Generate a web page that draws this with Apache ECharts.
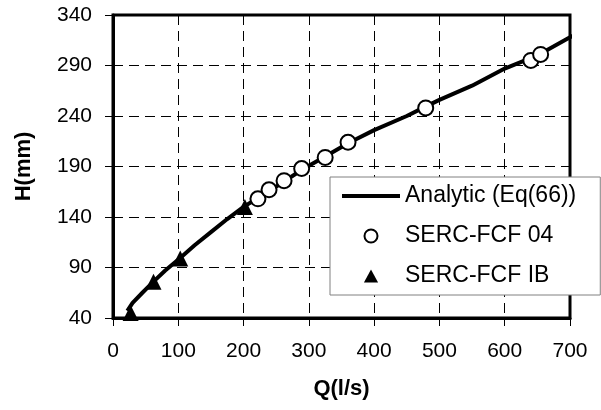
<!DOCTYPE html>
<html>
<head>
<meta charset="utf-8">
<script src="https://cdn.jsdelivr.net/npm/echarts@6/dist/echarts.min.js"></script>
<style>
html,body{margin:0;padding:0;background:#fff;}
#main{width:601px;height:410px;}
</style>
</head>
<body>
<div id="main"></div>
<script>
// analytic curve Q (l/s) -> H (mm)
var analyticQ = [22, 30, 45, 62, 80, 102, 125, 150, 175, 200, 225, 250, 290, 325, 360, 400, 450, 478, 500, 550, 600, 650, 700, 712];
var analyticH = [47, 55, 65, 76, 87, 99, 112, 125, 138, 150, 160, 170, 187, 200, 213, 226, 240, 249, 256, 270, 287, 300, 318, 322];

// SERC-FCF 04 (circles)
var fcf04Q = [222, 239, 262, 289, 325, 360, 479, 640, 655];
var fcf04H = [158, 167, 176, 188, 199, 214, 248, 295, 301];

// SERC-FCF IB (triangles)
var fcfIBQ = [27, 62, 103, 202];
var fcfIBH = [45, 76, 99, 150];

var xTicks = {min: 0, max: 700, step: 100};
var yTicks = {min: 40, max: 340, step: 50};

function pairs(a, b){
	var out = [];
	for(var i=0;i<a.length;i++){
		out.push([a[i], b[i]]);
	}
	return out;
}

var myChart = echarts.init(document.getElementById('main'));
var fnt = 'Liberation Sans, Arial, sans-serif';

var option = {
	animation: false,
	backgroundColor: '#fff',
	grid: {
		left: 113, top: 15, right: 31, bottom: 92,
		show: true,
		borderColor: '#000',
		borderWidth: 3,
		backgroundColor: '#fff'
	},
	legend: {
		orient: 'vertical',
		left: 330,
		top: 177,
		padding: [6, 24, 6, 12],
		itemWidth: 58,
		itemHeight: 13,
		itemGap: 14,
		backgroundColor: '#fff',
		borderColor: '#808080',
		borderWidth: 1,
		borderRadius: 0,
		textStyle: {fontFamily: fnt, fontSize: 23, color: '#000', lineHeight: 26},
		data: [
			{name: 'Analytic (Eq(66))', icon: 'path://M0,0L58,0L58,4L0,4Z', itemStyle: {color: '#000', borderWidth: 0}},
			{name: 'SERC-FCF 04', icon: 'circle'},
			{name: 'SERC-FCF IB', icon: 'path://M6,0L12,11L0,11Z'}
		]
	},
	xAxis: {
		type: 'value',
		min: xTicks.min, max: xTicks.max, interval: xTicks.step,
		name: 'Q(l/s)',
		nameLocation: 'middle',
		nameGap: 60,
		nameTextStyle: {fontFamily: fnt, fontSize: 22, fontWeight: 'bold', color: '#000'},
		axisLine: {show: true, lineStyle: {color: '#000', width: 3}},
		axisTick: {show: true, inside: false, length: 8, lineStyle: {color: '#000', width: 1}},
		axisLabel: {fontFamily: fnt, fontSize: 21, color: '#000', margin: 23},
		splitLine: {show: true, lineStyle: {color: '#000', width: 1, type: [10, 6]}}
	},
	yAxis: {
		type: 'value',
		min: yTicks.min, max: yTicks.max, interval: yTicks.step,
		name: 'H(mm)',
		nameLocation: 'middle',
		nameGap: 78,
		nameTextStyle: {fontFamily: fnt, fontSize: 22, fontWeight: 'bold', color: '#000'},
		axisLine: {show: true, lineStyle: {color: '#000', width: 3}},
		axisTick: {show: true, inside: false, length: 8, lineStyle: {color: '#000', width: 1}},
		axisLabel: {fontFamily: fnt, fontSize: 21, color: '#000', margin: 21},
		splitLine: {show: true, lineStyle: {color: '#000', width: 1, type: [10, 6]}}
	},
	series: [
		{
			name: 'Analytic (Eq(66))',
			type: 'line',
			data: pairs(analyticQ, analyticH),
			symbol: 'none',
			clip: false,
			z: 2,
			lineStyle: {color: '#000', width: 4},
			itemStyle: {color: '#000'}
		},
		{
			name: 'SERC-FCF 04',
			type: 'scatter',
			data: pairs(fcf04Q, fcf04H),
			symbol: 'circle',
			symbolSize: 15,
			z: 3,
			itemStyle: {color: '#fff', borderColor: '#000', borderWidth: 2, opacity: 1}
		},
		{
			name: 'SERC-FCF IB',
			type: 'scatter',
			data: pairs(fcfIBQ, fcfIBH),
			symbol: 'triangle',
			symbolSize: 16,
			z: 4,
			itemStyle: {color: '#000', opacity: 1}
		}
	]
};
myChart.setOption(option);
</script>
</body>
</html>
